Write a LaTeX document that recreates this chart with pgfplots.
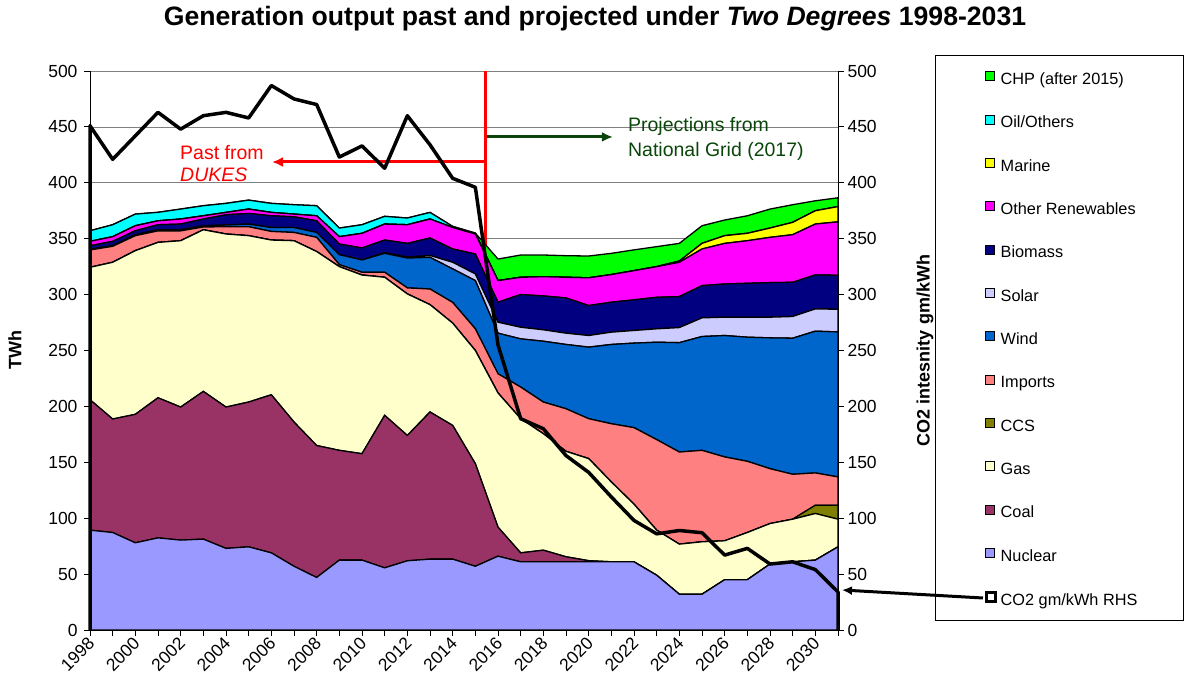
\documentclass[border=0pt]{standalone}
\usepackage{pgfplots}
\pgfplotsset{compat=1.18}
\usepackage{pgfplotstable}
\usepackage{fontspec}
\setmainfont{Liberation Sans}
\usetikzlibrary{arrows.meta}

\definecolor{cNuc}{RGB}{153,153,255}
\definecolor{cCoal}{RGB}{153,51,102}
\definecolor{cGas}{RGB}{255,255,204}
\definecolor{cCCS}{RGB}{128,128,0}
\definecolor{cImp}{RGB}{255,128,128}
\definecolor{cWind}{RGB}{0,102,204}
\definecolor{cSolar}{RGB}{204,204,255}
\definecolor{cBio}{RGB}{0,0,128}
\definecolor{cOth}{RGB}{255,0,255}
\definecolor{cMar}{RGB}{255,255,0}
\definecolor{cOil}{RGB}{0,255,255}
\definecolor{cCHP}{RGB}{0,255,0}
\definecolor{dkgreen}{RGB}{10,70,10}

\pgfplotstableread{
year nuc coal gas ccs imp wind solar bio oth marine oil chp
1998 89.3 116.7 118.4 0 15.5 0.6 0 3.2 3.9 0 9.5 0
1999 87.2 101.5 140.2 0 14.3 0.6 0 3.8 4.2 0 10.7 0
2000 78.0 114.9 146.4 0 13.4 0.8 0 3.6 4.5 0 10.4 0
2001 82.4 125.3 139.0 0 10.3 1.0 0 4.5 3.5 0 7.6 0
2002 80.4 119.0 148.8 0 8.8 1.0 0 5.1 4.5 0 8.9 0
2003 81.3 132.1 144.6 0 2.5 1.0 0 6.1 2.9 0 9.0 0
2004 73.0 126.4 154.8 0 6.5 1.5 0 9.2 2.1 0 8.1 0
2005 74.4 129.5 148.8 0 8.0 2.3 0 9.6 3.9 0 8.0 0
2006 69.0 141.4 138.4 0 7.7 3.5 0 10.5 3.0 0 8.1 0
2007 57.0 129.0 162.2 0 7.4 4.4 0 9.6 2.4 0 8.4 0
2008 47.0 118.0 173.5 0 12.7 4.4 0 10.4 4.5 0 9.0 0
2009 62.5 98.2 164.3 0 1.8 8.9 0 9.5 6.6 0 7.7 0
2010 62.5 95.2 159.8 0 2.5 11.0 0 10.7 13.1 0 7.7 0
2011 55.6 136.4 123.5 0 4.5 16.9 0.6 11.3 14.3 0 6.9 0
2012 61.9 112.1 126.6 0 5.4 26.7 0.8 12.3 16.7 0 6.0 0
2013 63.4 131.6 96.0 0 14.0 28.3 1.7 15.6 17.0 0 5.9 0
2014 63.4 119.6 91.5 0 18.5 30.0 5.9 11.9 19.2 0 1.0 0
2015 57.0 91.8 101.2 0 19.4 43.1 6.0 17.8 17.9 0 0.8 0
2016 66.0 26.0 120.0 0 17.2 36.3 9.8 17.9 19.3 0 0 19.3
2017 61.0 8.0 120.0 0 28.3 43.1 10.4 29.2 15.5 0 0 19.9
2018 61.0 10.4 104.2 0 28.3 54.4 10.2 30.3 17.2 0 0 19.4
2019 61.0 4.5 94.3 0 38.1 57.5 10.1 31.5 18.5 0 0 19.3
2020 61.0 1.0 91.3 0 35.7 64.0 10.4 26.8 24.8 0 0 19.5
2021 61.0 0 71.4 0 52.1 70.9 11.0 26.8 24.7 0 0 19.0
2022 61.0 0 51.5 0 68.5 75.6 11.3 27.4 26.1 0 0 18.6
2023 49.0 0 40.3 0 81.0 87.1 12.0 28.2 27.4 0 0 17.9
2024 32.0 0 44.8 0 82.4 97.8 13.5 27.7 30.7 1.1 0 15.8
2025 32.0 0 46.9 0 81.8 101.8 16.7 28.8 32.8 5.0 0 15.8
2026 45.0 0 34.8 0 75.0 108.6 16.4 29.7 36.3 6.9 0 14.0
2027 45.0 0 42.2 0 63.7 111.0 17.9 30.3 38.1 6.6 0 15.7
2028 59.0 0 36.2 0 49.1 117.0 18.5 30.9 40.5 8.3 0 17.0
2029 61.0 0 38.1 0 40.2 121.7 19.4 30.6 42.6 11.0 0 15.8
2030 62.5 0 41.7 7.4 28.9 126.8 19.9 30.4 45.5 11.9 0 8.9
2031 74.4 0 24.7 12.5 25.3 129.7 20.3 30.4 47.8 13.6 0 7.9
}\gen

\pgfplotstableread{
year co2
1998 0
1998 451
1999 421
2000 442
2001 463
2002 448
2003 460
2004 463
2005 458
2006 487
2007 475
2008 470
2009 423
2010 433
2011 413
2012 460
2013 434
2014 404
2015 396
2016 255
2017 189
2018 180
2019 156
2020 141
2021 119
2022 98
2023 86
2024 89
2025 87
2026 67
2027 73
2028 59
2029 61
2030 54
2031 34
2031 0
}\cotwo

\begin{document}
\begin{tikzpicture}
\useasboundingbox (0,0) rectangle (1189bp,690bp);
\node[font=\fontsize{26.6bp}{30bp}\selectfont\bfseries] at (595bp,671bp)
  {Generation output past and projected under \textit{Two Degrees} 1998-2031};

\begin{axis}[
  at={(90bp,60bp)}, anchor=south west,
  scale only axis, width=748bp, height=559bp,
  xmin=1998, xmax=2031, ymin=0, ymax=500,
  stack plots=y,
  axis x line*=bottom, axis y line*=left,
  x axis line style={-, line width=1.6bp, black},
  y axis line style={-, line width=0.8bp, black},
  xtick={1998,2000,...,2030}, minor xtick={1999,2001,...,2031},
  ytick={0,50,...,500},
  tick align=outside, major tick length=6bp, minor tick length=6bp,
  tick style={black, line width=0.8bp},
  ymajorgrids, grid style={gray, line width=0.6bp},
  xticklabel style={rotate=45, anchor=east, inner sep=1bp, xshift=-1bp, yshift=-4bp},
  yticklabel style={xshift=-3bp},
  tick label style={font=\fontsize{17.5bp}{18bp}\selectfont},
  /pgf/number format/1000 sep={},
  /pgf/number format/assume math mode=true,
  ylabel={\textbf{TWh}},
  ylabel style={at={(axis description cs:-0.1003,0.5)}, anchor=center,
    font=\fontsize{18bp}{18bp}\selectfont},
  legend style={at={(axis description cs:1.1965,1.0)}, anchor=north west,
    draw=none, fill=none, font=\fontsize{16.3bp}{16.3bp}\selectfont,
    row sep=26.6bp, column sep=4bp, inner xsep=0pt, inner ysep=0pt,
    nodes={inner sep=0pt, text height=12bp, text depth=3.5bp}},
  legend cell align=left, reverse legend,
  legend image code/.code={\draw[#1, line width=1bp] (0bp,-0.5bp) rectangle (9bp,8.5bp);},
]
\addlegendimage{legend image code/.code={\draw[black, line width=2.5bp, fill=white] (0.5bp,-0.5bp) rectangle (9.5bp,8.5bp);}}
\addlegendentry{CO2 gm/kWh RHS}
\addplot[fill=cNuc, draw=black, line width=1.3bp] table[x=year, y=nuc] {\gen} \closedcycle;
\addlegendentry{Nuclear}
\addplot[fill=cCoal, draw=black, line width=1.3bp] table[x=year, y=coal] {\gen} \closedcycle;
\addlegendentry{Coal}
\addplot[fill=cGas, draw=black, line width=1.3bp] table[x=year, y=gas] {\gen} \closedcycle;
\addlegendentry{Gas}
\addplot[fill=cCCS, draw=black, line width=1.3bp] table[x=year, y=ccs] {\gen} \closedcycle;
\addlegendentry{CCS}
\addplot[fill=cImp, draw=black, line width=1.3bp] table[x=year, y=imp] {\gen} \closedcycle;
\addlegendentry{Imports}
\addplot[fill=cWind, draw=black, line width=1.3bp] table[x=year, y=wind] {\gen} \closedcycle;
\addlegendentry{Wind}
\addplot[fill=cSolar, draw=black, line width=1.3bp] table[x=year, y=solar] {\gen} \closedcycle;
\addlegendentry{Solar}
\addplot[fill=cBio, draw=black, line width=1.3bp] table[x=year, y=bio] {\gen} \closedcycle;
\addlegendentry{Biomass}
\addplot[fill=cOth, draw=black, line width=1.3bp] table[x=year, y=oth] {\gen} \closedcycle;
\addlegendentry{Other Renewables}
\addplot[fill=cMar, draw=black, line width=1.3bp] table[x=year, y=marine] {\gen} \closedcycle;
\addlegendentry{Marine}
\addplot[fill=cOil, draw=black, line width=1.3bp] table[x=year, y=oil] {\gen} \closedcycle;
\addlegendentry{Oil/Others}
\addplot[fill=cCHP, draw=black, line width=1.3bp] table[x=year, y=chp] {\gen} \closedcycle;
\addlegendentry{CHP (after 2015)}

\draw[red, line width=3bp] (axis cs:2015.43,4.5) -- (axis cs:2015.43,500);
\draw[red, line width=3bp, -{Latex[length=11bp,width=10bp]}] (axis cs:2015.43,418.6) -- (axis cs:2006.03,418.6);
\node[red, anchor=west, inner sep=0pt, font=\fontsize{19.5bp}{20bp}\selectfont] at (axis cs:2001.97,427.5) {Past from};
\node[red, anchor=west, inner sep=0pt, font=\fontsize{19.5bp}{20bp}\selectfont\itshape] at (axis cs:2001.97,407) {DUKES};
\draw[dkgreen, line width=3bp, -{Latex[length=11bp,width=10bp]}] (axis cs:2015.5,441) -- (axis cs:2021.07,441);
\node[dkgreen, anchor=west, inner sep=0pt, font=\fontsize{19.5bp}{20bp}\selectfont] at (axis cs:2021.73,450.8) {Projections from};
\node[dkgreen, anchor=west, inner sep=0pt, font=\fontsize{19.5bp}{20bp}\selectfont] at (axis cs:2021.73,428.4) {National Grid (2017)};
\end{axis}

\begin{axis}[
  at={(90bp,60bp)}, anchor=south west,
  scale only axis, width=748bp, height=559bp,
  xmin=1998, xmax=2031, ymin=0, ymax=500, clip=false,
  axis x line=none, axis y line*=right,
  y axis line style={-, line width=0.8bp, black},
  ytick={0,50,...,500},
  tick align=outside, major tick length=6bp,
  tick style={black, line width=0.8bp},
  tick label style={font=\fontsize{17.5bp}{18bp}\selectfont},
  /pgf/number format/assume math mode=true,
  ylabel={\textbf{CO2 intesnity gm/kWh}},
  ylabel style={at={(axis description cs:1.1163,0.5)}, anchor=center,
    font=\fontsize{18bp}{18bp}\selectfont},
]
\addplot[black, line width=3.5bp, line join=round] table[x=year, y=co2] {\cotwo};
\end{axis}

\draw[black, line width=0.8bp] (935bp,635bp) rectangle (1183bp,70bp);
\draw[black, line width=3bp, -{Latex[length=10bp,width=9bp]}] (983bp,92bp) -- (842bp,100bp);
\end{tikzpicture}
\end{document}
